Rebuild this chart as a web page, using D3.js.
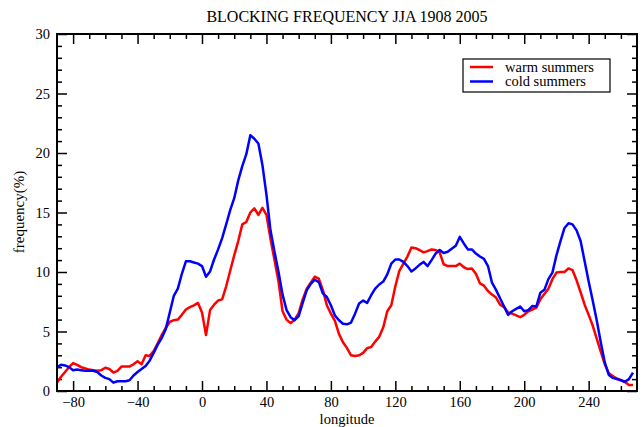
<!DOCTYPE html>
<html>
<head>
<meta charset="utf-8">
<script src="https://cdn.jsdelivr.net/npm/d3@7"></script>
<style>
html,body{margin:0;padding:0;background:#fff;}
svg{display:block;}
text{font-family:"Liberation Serif","Times New Roman",serif;fill:#000;}
</style>
</head>
<body>
<svg id="chart" width="644" height="427"></svg>
<script>
const title = "BLOCKING FREQUENCY JJA 1908 2005";
const xLabel = "longitude";
const yLabel = "frequency(%)";
const seriesNames = ["warm summers", "cold summers"];
const seriesColors = ["#ff0000", "#0000ff"];
const xTicks = [-80, -40, 0, 40, 80, 120, 160, 200, 240];
const yTicks = [0, 5, 10, 15, 20, 25, 30];

const longitudes = [-90,-87.5,-85,-82.5,-80,-77.5,-75,-72.5,-70,-67.5,-65,-62.5,-60,-57.5,-55,-52.5,-50,-47.5,-45,-42.5,-40,-37.5,-35,-32.5,-30,-27.5,-25,-22.5,-20,-17.5,-15,-12.5,-10,-7.5,-5,-2.5,0,2.5,5,7.5,10,12.5,15,17.5,20,22.5,25,27.5,30,32.5,35,37.5,40,42.5,45,47.5,50,52.5,55,57.5,60,62.5,65,67.5,70,72.5,75,77.5,80,82.5,85,87.5,90,92.5,95,97.5,100,102.5,105,107.5,110,112.5,115,117.5,120,122.5,125,127.5,130,132.5,135,137.5,140,142.5,145,147.5,150,152.5,155,157.5,160,162.5,165,167.5,170,172.5,175,177.5,180,182.5,185,187.5,190,192.5,195,197.5,200,202.5,205,207.5,210,212.5,215,217.5,220,222.5,225,227.5,230,232.5,235,237.5,240,242.5,245,247.5,250,252.5,255,257.5,260,262.5,265,267.5];

const warm = [0.7,1.2,1.6,2.0,2.35,2.2,2.0,1.9,1.8,1.75,1.7,1.75,1.95,1.85,1.55,1.7,2.05,2.05,2.05,2.25,2.5,2.25,3.0,2.95,3.35,4.0,4.7,5.3,5.8,5.95,6.0,6.4,6.85,7.05,7.2,7.4,6.6,4.7,6.8,7.25,7.6,7.7,8.8,10.1,11.4,12.6,14.0,14.2,15.0,15.35,14.8,15.4,14.8,12.8,11.0,9.2,6.7,6.0,5.7,6.0,6.55,7.7,8.6,9.1,9.6,9.45,8.5,7.2,6.5,5.9,4.8,4.1,3.6,3.0,2.94,3.0,3.2,3.6,3.7,4.15,4.55,5.35,6.7,7.2,8.8,10.1,10.7,11.3,12.05,12.0,11.85,11.65,11.75,11.9,11.85,11.65,10.65,10.5,10.5,10.5,10.7,10.4,10.25,10.3,9.85,9.05,8.85,8.4,8.1,7.85,7.25,7.05,6.6,6.5,6.35,6.2,6.4,6.7,6.85,7.0,7.7,8.15,8.6,9.4,9.95,10.0,10.0,10.3,10.15,9.3,8.3,7.25,6.4,5.5,4.4,3.3,2.25,1.5,1.25,1.05,0.92,0.75,0.5,0.5];

const cold = [2.0,2.2,2.15,2.0,1.75,1.8,1.75,1.7,1.7,1.7,1.6,1.3,1.1,1.0,0.7,0.82,0.82,0.82,0.9,1.3,1.6,1.85,2.1,2.55,3.2,3.9,4.45,5.2,6.6,8.0,8.6,9.85,10.9,10.9,10.8,10.7,10.5,9.6,10.05,11.05,11.9,12.85,14.0,15.2,16.2,17.7,18.9,19.9,21.5,21.2,20.8,19.0,16.5,13.5,11.7,10.0,8.1,6.8,6.2,5.95,6.3,7.4,8.45,9.0,9.35,9.15,8.2,7.9,7.2,6.35,5.95,5.65,5.6,5.75,6.5,7.35,7.6,7.4,8.05,8.6,8.95,9.2,9.8,10.7,11.05,11.05,10.85,10.5,10.05,10.3,10.6,10.85,10.5,11.0,11.55,11.85,11.6,11.7,11.95,12.2,12.95,12.4,11.9,11.9,11.55,11.3,11.1,10.5,9.1,8.5,7.8,7.1,6.4,6.7,6.9,7.1,6.7,6.8,7.14,7.1,8.25,8.5,9.4,9.95,11.4,12.6,13.7,14.1,14.0,13.5,12.6,10.9,9.2,7.6,5.95,4.1,2.4,1.35,1.1,1.0,0.9,0.78,1.0,1.55];

const svg = d3.select("#chart");
const L = 57, R = 637, T = 34, B = 391;
const x = d3.scaleLinear().domain([-90, 270]).range([L, R]);
const y = d3.scaleLinear().domain([0, 30]).range([B, T]);

const minorX = d3.range(-90, 271, 10).filter(v => !xTicks.includes(v) && v > -90 && v < 270);
const minorY = d3.range(0, 31, 1).filter(v => v % 5 !== 0);

// bottom axis (ticks inward)
const gB = svg.append("g").attr("transform", `translate(0,${B})`);
gB.call(d3.axisBottom(x).tickValues(xTicks).tickSize(-10).tickPadding(6).tickFormat(d3.format("d")));
gB.append("g").call(d3.axisBottom(x).tickValues(minorX).tickSize(-5).tickFormat(""));
// top axis
const gT = svg.append("g").attr("transform", `translate(0,${T})`);
gT.call(d3.axisTop(x).tickValues(xTicks).tickSize(-10).tickFormat(""));
gT.append("g").call(d3.axisTop(x).tickValues(minorX).tickSize(-5).tickFormat(""));
// left axis
const gL = svg.append("g").attr("transform", `translate(${L},0)`);
gL.call(d3.axisLeft(y).tickValues(yTicks).tickSize(-10).tickPadding(7).tickFormat(d3.format("d")));
gL.append("g").call(d3.axisLeft(y).tickValues(minorY).tickSize(-5).tickFormat(""));
// right axis
const gR = svg.append("g").attr("transform", `translate(${R},0)`);
gR.call(d3.axisRight(y).tickValues(yTicks).tickSize(-10).tickFormat(""));
gR.append("g").call(d3.axisRight(y).tickValues(minorY).tickSize(-5).tickFormat(""));

svg.selectAll(".domain").remove();
svg.selectAll(".tick line").attr("stroke", "#000").attr("stroke-width", 1.5);
svg.selectAll(".tick text").style("font-size", "14.5px").style("font-family", '"Liberation Serif", serif').attr("fill", "#000");

// lines
const line = d3.line().x((d, i) => x(longitudes[i])).y(d => y(d));
[warm, cold].forEach((s, k) => {
  svg.append("path").datum(s).attr("d", line)
    .attr("fill", "none").attr("stroke", seriesColors[k])
    .attr("stroke-width", 2.5).attr("stroke-linejoin", "round");
});

// frame
svg.append("rect").attr("x", L).attr("y", T).attr("width", R - L).attr("height", B - T)
  .attr("fill", "none").attr("stroke", "#000").attr("stroke-width", 2);

// title & labels
svg.append("text").attr("x", 347).attr("y", 22).attr("text-anchor", "middle")
  .style("font-size", "16px").text(title);
svg.append("text").attr("x", 347).attr("y", 424).attr("text-anchor", "middle")
  .style("font-size", "14.5px").text(xLabel);
svg.append("text").attr("transform", "translate(24,212) rotate(-90)").attr("text-anchor", "middle")
  .style("font-size", "15px").text(yLabel);

// legend
const lg = svg.append("g");
lg.append("rect").attr("x", 463).attr("y", 59).attr("width", 147).attr("height", 33)
  .attr("fill", "#fff").attr("stroke", "#000").attr("stroke-width", 1.2);
seriesNames.forEach((n, k) => {
  const yy = 67 + k * 14.5;
  lg.append("line").attr("x1", 470).attr("x2", 493).attr("y1", yy).attr("y2", yy)
    .attr("stroke", seriesColors[k]).attr("stroke-width", 2.5);
  lg.append("text").attr("x", 505).attr("y", yy + 4.5).style("font-size", "14.5px").text(n);
});
</script>
</body>
</html>
